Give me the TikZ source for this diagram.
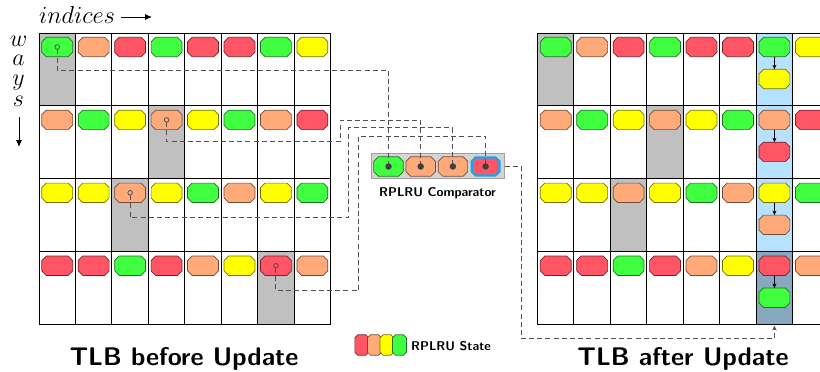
\RequirePackage{fix-cm}
\documentclass[tikz,border=0pt]{standalone}
\usetikzlibrary{arrows.meta,calc}
\definecolor{fg}{RGB}{64,255,64}
\definecolor{fo}{RGB}{255,170,120}
\definecolor{fr}{RGB}{255,85,100}
\definecolor{fy}{RGB}{255,255,0}
\definecolor{cellgray}{RGB}{192,192,192}
\definecolor{cellblue}{RGB}{182,226,255}
\definecolor{celldark}{RGB}{136,168,192}
\definecolor{dashgray}{RGB}{80,80,80}
\definecolor{hiblue}{RGB}{20,165,245}
\definecolor{cmpfill}{RGB}{212,212,212}
\definecolor{cmpdraw}{RGB}{160,160,160}
\tikzset{
  gridline/.style={line width=1pt, black},
  dl/.style={dashgray, line width=1pt, dash pattern=on 5pt off 3.2pt},
  markc/.style={dashgray, line width=0.8pt},
  dotn/.style={circle, fill=black!75, inner sep=0pt, minimum size=6.5pt},
  title/.style={font=\sffamily\bfseries\fontsize{25.5}{30}\selectfont, anchor=base},
  small/.style={font=\sffamily\bfseries\fontsize{12.7}{15}\selectfont},
}
% #1 name, #2 position, #3 colour letter, #4 width, #5 height, #6 chamfer, #7 extra options
\newcommand\octshape[7]{%
  \node[inner sep=0pt, minimum width=#4, minimum height=#5] (#1) at #2 {};
  \draw[fill=f#3, draw=f#3!45!black, line width=0.7pt, #7]
    ($(#1.north west)+(#6,0)$) -- ($(#1.north east)+(-#6,0)$) --
    ($(#1.north east)+(0,#6)$) -- ($(#1.south east)+(0,-#6)$) --
    ($(#1.south east)+(-#6,0)$) -- ($(#1.south west)+(#6,0)$) --
    ($(#1.south west)+(0,-#6)$) -- ($(#1.north west)+(0,#6)$) -- cycle;
}
\begin{document}
\begin{tikzpicture}[x=1pt,y=-1pt]
\useasboundingbox (0,0) rectangle (820,372);
\clip (0,0) rectangle (820,372);
\def\cw{36.45}
\def\rh{72.9}
% ---- cell fills, left grid
\fill[cellgray] ({39+0*\cw},{33+0*\rh}) rectangle ++(\cw,\rh);
\fill[cellgray] ({39+3*\cw},{33+1*\rh}) rectangle ++(\cw,\rh);
\fill[cellgray] ({39+2*\cw},{33+2*\rh}) rectangle ++(\cw,\rh);
\fill[cellgray] ({39+6*\cw},{33+3*\rh}) rectangle ++(\cw,\rh);
% ---- cell fills, right grid
\fill[cellgray] ({537.5+0*\cw},{33+0*\rh}) rectangle ++(\cw,\rh);
\fill[cellgray] ({537.5+3*\cw},{33+1*\rh}) rectangle ++(\cw,\rh);
\fill[cellgray] ({537.5+2*\cw},{33+2*\rh}) rectangle ++(\cw,\rh);
\fill[cellblue] ({537.5+6*\cw},33) rectangle ++(\cw,{3*\rh});
\fill[celldark] ({537.5+6*\cw},{33+3*\rh}) rectangle ++(\cw,\rh);
% ---- grid lines
\foreach \gx in {39,537.5}{
  \foreach \k in {0,...,8}
    \draw[gridline] ({\gx+\k*\cw},33) -- ({\gx+\k*\cw},{33+4*\rh});
  \foreach \k in {0,...,4}
    \draw[gridline] (\gx,{33+\k*\rh}) -- ({\gx+8*\cw},{33+\k*\rh});
}
% ---- shapes
\foreach \row [count=\j from 0] in {{g,o,r,g,r,r,g,y},{o,g,y,o,y,g,o,r},{y,y,o,y,g,o,y,g},{r,r,g,r,o,y,r,o}}{
  \foreach \c [count=\i from 0] in \row {
    \octshape{L-\j-\i}{({39+(\i+0.5)*\cw},{33+\j*\rh+14})}{\c}{30.5pt}{19pt}{4.5}{}
    \octshape{R-\j-\i}{({537.5+(\i+0.5)*\cw},{33+\j*\rh+14})}{\c}{30.5pt}{19pt}{4.5}{}
  }
}
\foreach \c [count=\j from 0] in {y,r,o,g}{
  \octshape{S-\j}{({537.5+6.5*\cw},{33+\j*\rh+46})}{\c}{30.5pt}{19pt}{4.5}{}
  \draw[-{Stealth[length=4.5pt,width=4pt]}, line width=0.7pt] (R-\j-6.south) -- (S-\j.north);
}
% ---- comparator
\node[draw=cmpdraw, fill=cmpfill, line width=1pt, minimum width=133pt, minimum height=25.4pt, inner sep=0pt] (cmp) at (437.5,166) {};
\octshape{C1}{(388.5,166.5)}{g}{29pt}{19pt}{4.5}{}
\octshape{C2}{(420.7,166.5)}{o}{29pt}{19pt}{4.5}{}
\octshape{C3}{(452.9,166.5)}{o}{29pt}{19pt}{4.5}{}
\octshape{C4}{(485.6,166.5)}{r}{27.5pt}{17.5pt}{4}{draw=hiblue, line width=2.2pt}
\node[small] (cmptxt) at (437.5,193.5) {RPLRU Comparator};
% ---- dashed routes
\foreach \n in {L-0-0,L-1-3,L-2-2,L-3-6}
  \draw[markc] (\n.center) circle (2.3);
\draw[dl] ($(L-0-0.center)+(0,2.3)$) -- ++(0,20.7) -| (C1.center);
\draw[dl] ($(L-1-3.center)+(0,2.3)$) |- (340,141.7) -- (340,120) -| (C2.center);
\draw[dl] ($(L-2-2.center)+(0,2.3)$) |- (348.6,217.5) -- (348.6,127.8) -| (C3.center);
\draw[dl] ($(L-3-6.center)+(0,2.3)$) |- (358.7,290.7) -- (358.7,136) -| (C4.center);
\foreach \n in {C1,C2,C3,C4}
  \node[dotn] at (\n.center) {};
\coordinate (rbot) at ({537.5+6.5*\cw},{33+4*\rh+1});
\draw[dl, -{Stealth[length=5pt,width=4.5pt]}] (cmp.east) -- (521,166) -- (521,338.3) -| (rbot);
% ---- legend
\octshape{LG1}{(361.8,345)}{r}{13.5pt}{20pt}{3}{}
\octshape{LG2}{(374.4,345)}{o}{13.5pt}{20pt}{3}{}
\octshape{LG3}{(387,345)}{y}{13.5pt}{20pt}{3}{}
\octshape{LG4}{(399.5,345)}{g}{13.5pt}{20pt}{3}{}
\node[small, anchor=west, inner sep=0pt] (lgtxt) at (411,346) {RPLRU State};
% ---- axis labels
\node[anchor=base west, inner sep=0pt, font=\fontsize{24.5}{28}\selectfont] (idx) at (39,23.3) {$indices$};
\coordinate (ia) at (121,17);
\coordinate (ib) at (152,17);
\draw[-{Latex[length=7pt,width=6pt]}, line width=0.9pt] (ia) -- (ib);
\node[anchor=north, inner sep=0pt, align=center, font=\fontsize{24}{19.5}\selectfont] (ways) at (18.5,35.5)
  {$w$\\$a$\\$y$\\[2pt]$s$};
\coordinate (wa) at (19,117);
\coordinate (wb) at (19,147);
\draw[-{Latex[length=7pt,width=6pt]}, line width=0.9pt] (wa) -- (wb);
% ---- titles
\node[title] (t1) at (184,365) {TLB before Update};
\node[title] (t2) at (683,365) {TLB after Update};
\end{tikzpicture}
\end{document}
